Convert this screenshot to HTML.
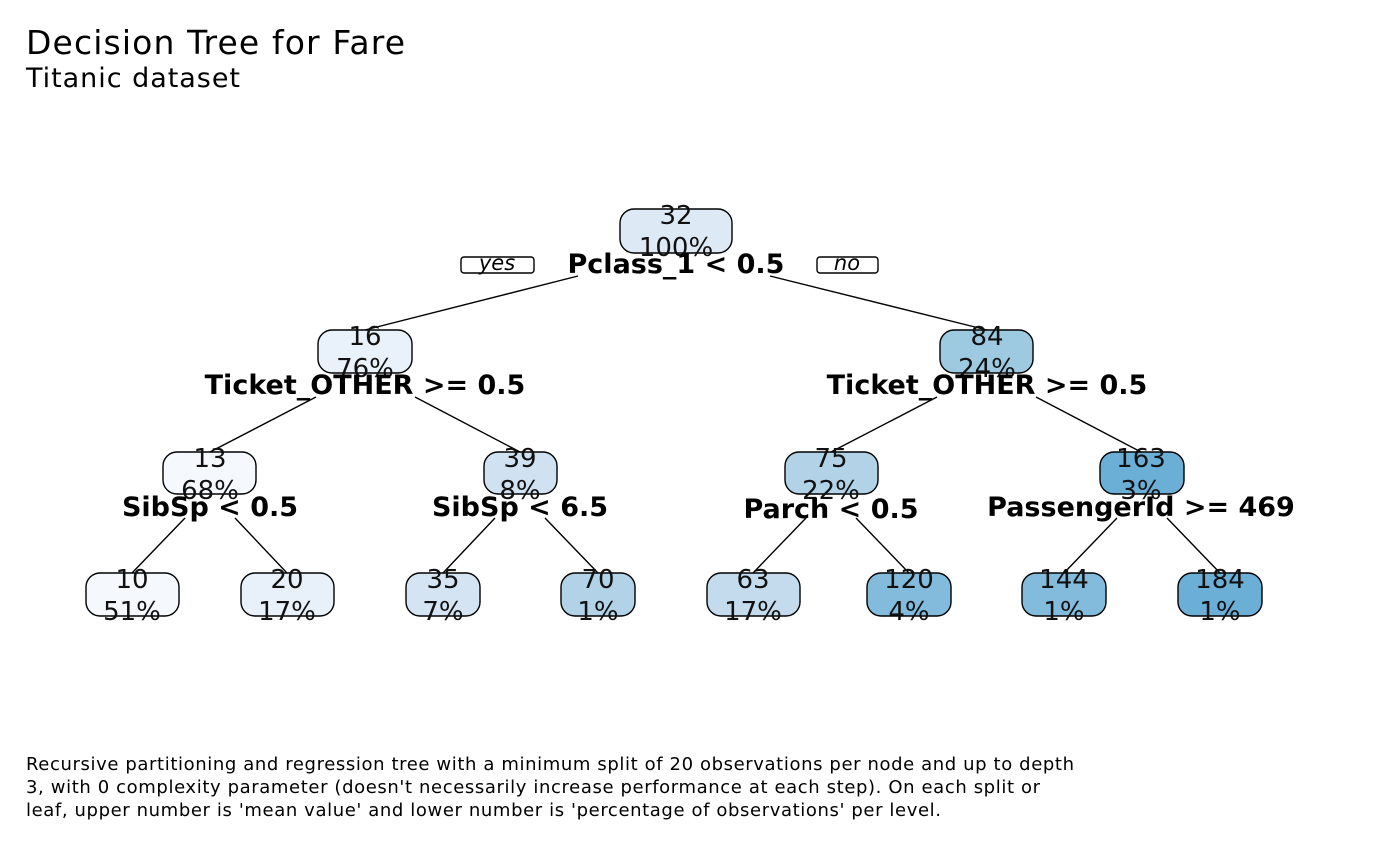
<!DOCTYPE html>
<html><head><meta charset="utf-8"><style>
html,body{margin:0;padding:0;background:#fff;}
svg{display:block;font-family:"DejaVu Sans","Liberation Sans",sans-serif;}
</style></head><body>
<svg width="1400" height="866" viewBox="0 0 1400 866" xmlns="http://www.w3.org/2000/svg">
<rect width="1400" height="866" fill="#fff"/>
<text x="26" y="54" font-size="33" textLength="379">Decision Tree for Fare</text>
<text x="26" y="87" font-size="27" textLength="214">Titanic dataset</text>

<g stroke="#000" stroke-width="1.4">
<line x1="578" y1="276" x2="365" y2="330"/><line x1="770" y1="276" x2="987" y2="330"/>
<line x1="316" y1="397" x2="210" y2="452"/><line x1="415" y1="397" x2="520" y2="452"/>
<line x1="937" y1="397" x2="831" y2="452"/><line x1="1036" y1="397" x2="1141" y2="452"/>
<line x1="185" y1="518" x2="132" y2="573"/><line x1="235" y1="518" x2="287" y2="573"/>
<line x1="495" y1="518" x2="443" y2="573"/><line x1="545" y1="518" x2="598" y2="573"/>
<line x1="806" y1="518" x2="753" y2="573"/><line x1="856" y1="518" x2="909" y2="573"/>
<line x1="1117" y1="518" x2="1064" y2="573"/><line x1="1167" y1="518" x2="1220" y2="573"/>
</g>

<g stroke="#000" stroke-width="1.4">
<rect x="620" y="209" width="112" height="44" rx="14" fill="#dde9f5"/>
<rect x="318" y="330" width="94" height="43" rx="14" fill="#e9f1fa"/>
<rect x="940" y="330" width="93" height="43" rx="14" fill="#9ecae1"/>
<rect x="163" y="452" width="93" height="42" rx="14" fill="#f5f9fe"/>
<rect x="484" y="452" width="73" height="42" rx="14" fill="#d0e1f2"/>
<rect x="785" y="452" width="93" height="42" rx="14" fill="#b2d2e8"/>
<rect x="1100" y="452" width="84" height="42" rx="14" fill="#6baed6"/>
<rect x="86" y="573" width="93" height="43" rx="14" fill="#f5f9fe"/>
<rect x="241" y="573" width="93" height="43" rx="14" fill="#e8f0f9"/>
<rect x="406" y="573" width="74" height="43" rx="14" fill="#d4e4f3"/>
<rect x="561" y="573" width="74" height="43" rx="14" fill="#b2d2e8"/>
<rect x="707" y="573" width="93" height="43" rx="14" fill="#c4dbee"/>
<rect x="867" y="573" width="84" height="43" rx="14" fill="#82bbdb"/>
<rect x="1022" y="573" width="84" height="43" rx="14" fill="#82bbdb"/>
<rect x="1178" y="573" width="84" height="43" rx="14" fill="#6baed6"/>
<rect x="461" y="257" width="73" height="16" rx="3" fill="#fff"/>
<rect x="817" y="257" width="61" height="16" rx="3" fill="#fff"/>
</g>

<g font-size="21" font-style="italic" text-anchor="middle">
<text x="497" y="270">yes</text><text x="847" y="270">no</text>
</g>

<g font-size="26" text-anchor="middle" fill="#111">
<text x="676" y="224">32</text><text x="676" y="256">100%</text>
<text x="365" y="345">16</text><text x="365" y="377">76%</text>
<text x="987" y="345">84</text><text x="987" y="377">24%</text>
<text x="210" y="467">13</text><text x="210" y="499">68%</text>
<text x="520" y="467">39</text><text x="520" y="499">8%</text>
<text x="831" y="467">75</text><text x="831" y="499">22%</text>
<text x="1141" y="467">163</text><text x="1141" y="499">3%</text>
<text x="132" y="588">10</text><text x="132" y="620">51%</text>
<text x="287" y="588">20</text><text x="287" y="620">17%</text>
<text x="443" y="588">35</text><text x="443" y="620">7%</text>
<text x="598" y="588">70</text><text x="598" y="620">1%</text>
<text x="753" y="588">63</text><text x="753" y="620">17%</text>
<text x="909" y="588">120</text><text x="909" y="620">4%</text>
<text x="1064" y="588">144</text><text x="1064" y="620">1%</text>
<text x="1220" y="588">184</text><text x="1220" y="620">1%</text>
</g>

<g font-size="27" font-weight="bold" text-anchor="middle">
<text x="676" y="273">Pclass_1 &lt; 0.5</text>
<text x="365" y="394">Ticket_OTHER &gt;= 0.5</text>
<text x="987" y="394">Ticket_OTHER &gt;= 0.5</text>
<text x="210" y="516">SibSp &lt; 0.5</text>
<text x="520" y="516">SibSp &lt; 6.5</text>
<text x="831" y="518">Parch &lt; 0.5</text>
<text x="1141" y="516">PassengerId &gt;= 469</text>
</g>

<g font-size="18">
<text x="26" y="770" textLength="1048">Recursive partitioning and regression tree with a minimum split of 20 observations per node and up to depth</text>
<text x="26" y="793" textLength="1014">3, with 0 complexity parameter (doesn't necessarily increase performance at each step). On each split or</text>
<text x="26" y="816" textLength="915">leaf, upper number is 'mean value' and lower number is 'percentage of observations' per level.</text>
</g>
</svg>
</body></html>
